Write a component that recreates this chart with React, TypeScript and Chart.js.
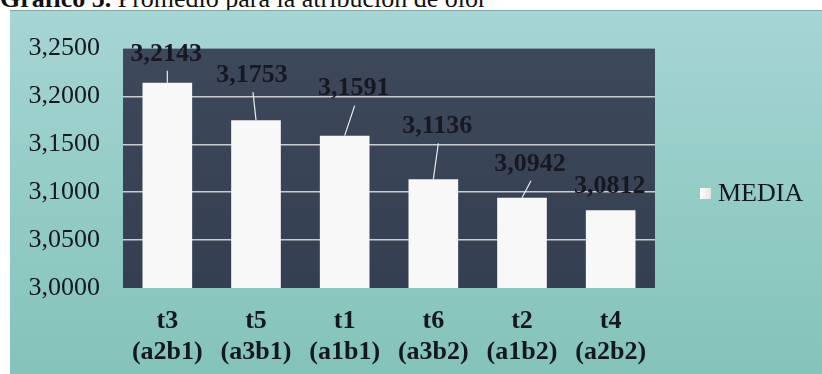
import React, { useEffect, useRef } from 'react';
import { Chart, registerables } from 'chart.js';

Chart.register(...registerables);

// ---- data ----
const categories: string[][] = [
  ['t3', '(a2b1)'],
  ['t5', '(a3b1)'],
  ['t1', '(a1b1)'],
  ['t6', '(a3b2)'],
  ['t2', '(a1b2)'],
  ['t4', '(a2b2)'],
];
const mediaValues: number[] = [3.2143, 3.1753, 3.1591, 3.1136, 3.0942, 3.0812];
const yTickValues: number[] = [3.0, 3.05, 3.1, 3.15, 3.2, 3.25];
const seriesName = 'MEDIA';
const titleBold = 'Gráfico 5.';
const titleRest = ' Promedio para la atribución de olor';

// ---- style (label placement offsets relative to bar top, px) ----
const labelOffsets: number[][] = [
  [-1, -29],
  [-4, -45],
  [9, -47],
  [4, -53],
  [8, -34],
  [-1, -24],
];

const SERIF = "'Liberation Serif', 'Times New Roman', serif";
const fmt = (v: number) => v.toFixed(4).replace('.', ',');

const plotBg = {
  id: 'plotBg',
  beforeDraw(chart: any) {
    const { ctx, chartArea: a } = chart;
    ctx.save();
    const g = ctx.createLinearGradient(0, a.top, 0, a.bottom);
    g.addColorStop(0, '#3e485b');
    g.addColorStop(1, '#343f51');
    ctx.fillStyle = g;
    ctx.fillRect(a.left, a.top, a.right - a.left, a.bottom - a.top);
    ctx.restore();
  },
};

const dataLabels = {
  id: 'dataLabels',
  afterDatasetsDraw(chart: any) {
    const { ctx } = chart;
    const meta = chart.getDatasetMeta(0);
    ctx.save();
    meta.data.forEach((bar: any, i: number) => {
      const [dx, dy] = labelOffsets[i];
      const tx = bar.x + dx;
      const ty = bar.y + dy;
      const ly = ty + 17;
      if (bar.y - ly > 10) {
        ctx.strokeStyle = '#e8eef0';
        ctx.lineWidth = 1.2;
        ctx.beginPath();
        ctx.moveTo(tx + 1, ly);
        ctx.lineTo(bar.x, bar.y);
        ctx.stroke();
      }
      ctx.fillStyle = '#161822';
      ctx.font = `bold 26px ${SERIF}`;
      ctx.textAlign = 'center';
      ctx.textBaseline = 'middle';
      ctx.fillText(fmt(mediaValues[i]), tx, ty);
    });
    ctx.restore();
  },
};

const customLegend = {
  id: 'customLegend',
  afterDraw(chart: any) {
    const { ctx, chartArea: a } = chart;
    const cy = chart.height / 2 + 2;
    ctx.save();
    const sx = a.right + 45;
    const g = ctx.createLinearGradient(sx, 0, sx + 11, 0);
    g.addColorStop(0, '#ffffff');
    g.addColorStop(1, '#e4e4e4');
    ctx.fillStyle = g;
    ctx.fillRect(sx, cy - 6, 11, 11);
    ctx.fillStyle = '#15171f';
    ctx.font = `26px ${SERIF}`;
    ctx.textAlign = 'left';
    ctx.textBaseline = 'middle';
    ctx.fillText(seriesName, a.right + 63, cy);
    ctx.restore();
  },
};

function ChartBox() {
  const ref = useRef<HTMLCanvasElement | null>(null);
  useEffect(() => {
    if (!ref.current) return;
    const chart = new Chart(ref.current, {
      type: 'bar',
      data: {
        labels: categories,
        datasets: [
          {
            label: seriesName,
            data: mediaValues,
            backgroundColor: '#f8f8f8',
            borderWidth: 0,
            barPercentage: 0.56,
            categoryPercentage: 1,
          },
        ],
      },
      options: {
        animation: false,
        responsive: false,
        maintainAspectRatio: false,
        layout: { padding: { top: 29, right: 167, left: 0, bottom: 0 } },
        plugins: {
          legend: { display: false },
          tooltip: { enabled: false },
          title: { display: false },
        },
        scales: {
          x: {
            grid: { display: false, drawTicks: false },
            border: { display: false },
            ticks: {
              color: '#15171f',
              font: { family: SERIF, size: 26, weight: 'bold', lineHeight: 1.19 },
              padding: 18,
              maxRotation: 0,
              autoSkip: false,
            },
            afterFit: (s: any) => {
              s.height = 86;
            },
          },
          y: {
            min: 3,
            max: 3.25,
            grid: {
              drawTicks: false,
              color: (c: any) => {
                const v = c.tick ? c.tick.value : 0;
                return v <= 3.0001 || v >= 3.2499 ? 'rgba(0,0,0,0)' : '#c9cdd2';
              },
              lineWidth: 1.5,
            },
            border: { display: false },
            afterBuildTicks: (s: any) => {
              s.ticks = yTickValues.map((v) => ({ value: v }));
            },
            ticks: {
              color: '#15171f',
              font: { family: SERIF, size: 26 },
              padding: 23,
              callback: (v: any) => fmt(Number(v)),
            },
            afterFit: (s: any) => {
              s.width = 113;
            },
          },
        },
      } as any,
      plugins: [plotBg, dataLabels, customLegend],
    });
    return () => chart.destroy();
  }, []);
  return <canvas ref={ref} width={812} height={364} style={{ display: 'block' }} />;
}

export default function App() {
  return (
    <div
      style={{
        position: 'fixed',
        left: 0,
        top: 0,
        width: 822,
        height: 374,
        overflow: 'hidden',
        background: '#ffffff',
      }}
    >
      <div
        style={{
          position: 'absolute',
          left: 0,
          top: -14,
          fontFamily: SERIF,
          fontSize: 26,
          lineHeight: '26px',
          color: '#111',
          whiteSpace: 'nowrap',
        }}
      >
        <b>{titleBold}</b>
        {titleRest}
      </div>
      <div
        style={{
          position: 'absolute',
          left: 10,
          top: 10,
          width: 812,
          height: 364,
          background: 'linear-gradient(180deg, #a6d5d4 0%, #94ccc6 50%, #84c3ba 100%)',
          borderTop: '1px solid #7fa7a8',
          boxSizing: 'border-box',
        }}
      >
        <div style={{ position: 'absolute', left: 0, top: -1 }}>
          <ChartBox />
        </div>
      </div>
    </div>
  );
}
